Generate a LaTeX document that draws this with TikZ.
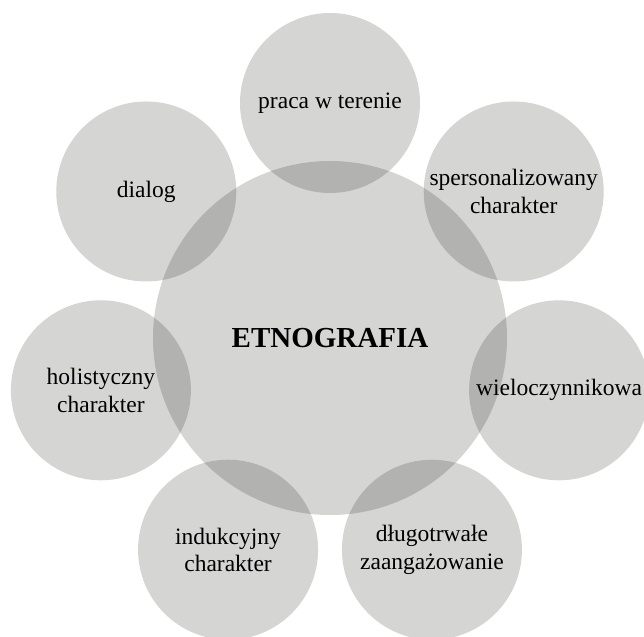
\documentclass[tikz,border=0pt]{standalone}
\usepackage{fontspec}
\setmainfont{Liberation Serif}
\begin{document}
\begin{tikzpicture}[x=1pt,y=1pt,
  bubble/.style={circle, inner sep=0pt, minimum size=180pt,
    fill={rgb,255:red,22;green,20;blue,14}, fill opacity=0.18, text opacity=1,
    align=center, font=\fontsize{23.5}{27.4}\selectfont},
  hub/.style={circle, inner sep=0pt, minimum size=354pt,
    fill={rgb,255:red,22;green,20;blue,14}, fill opacity=0.18, text opacity=1,
    font=\fontsize{29}{33}\selectfont\bfseries}]
  \path[use as bounding box] (0,0) rectangle (644,636);
  \clip (0,0) rectangle (644,636);
  % central theme
  \node[hub] (etno) at (330,298) {ETNOGRAFIA};
  % seven features, evenly spaced around the centre
  \def\dist{235}
  \node[bubble] (praca)  at ([shift={(90:\dist)}]etno.center) {praca w terenie};
  \node[bubble] (spers)  at ([shift={(38.57:\dist)}]etno.center) {spersonalizowany\\charakter};
  \node[bubble] (wielo)  at ([shift={(-12.86:\dist)}]etno.center) {wieloczynnikowa};
  \node[bubble] (dlugo)  at ([shift={(-64.29:\dist)}]etno.center) {długotrwałe\\zaangażowanie};
  \node[bubble] (induk)  at ([shift={(-115.71:\dist)}]etno.center) {indukcyjny\\charakter};
  \node[bubble] (holis)  at ([shift={(-167.14:\dist)}]etno.center) {holistyczny\\charakter};
  \node[bubble] (dialog) at ([shift={(141.43:\dist)}]etno.center) {dialog};
\end{tikzpicture}
\end{document}
